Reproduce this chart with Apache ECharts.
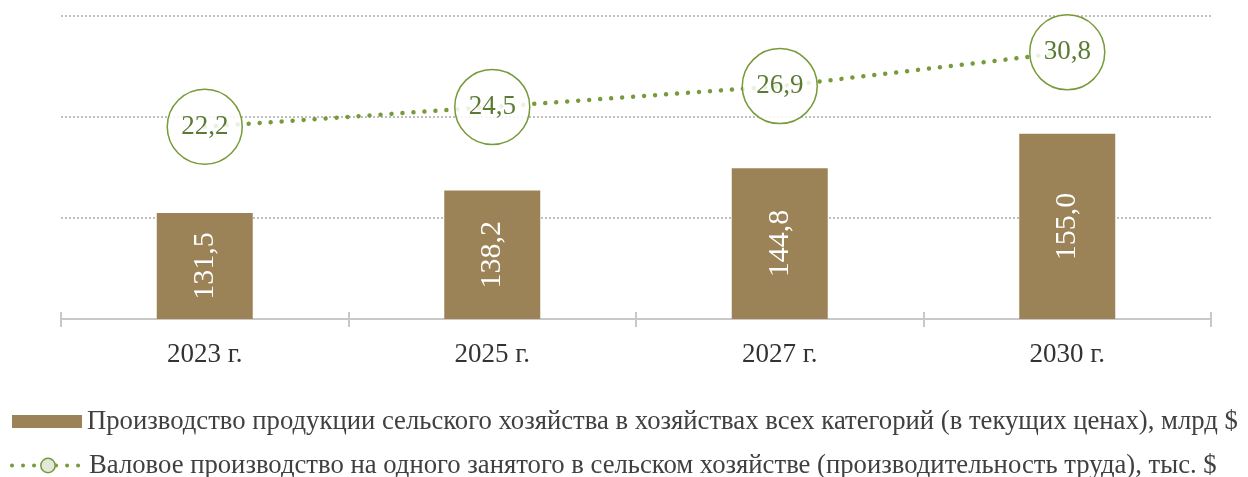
<!DOCTYPE html>
<html>
<head>
<meta charset="utf-8">
<script src="https://cdn.jsdelivr.net/npm/echarts@6/dist/echarts.min.js"></script>
<style>
  html, body { margin: 0; padding: 0; background: #fff; }
  #chart { width: 1248px; height: 477px; }
</style>
</head>
<body>
<div id="chart"></div>
<script>
var years = ['2023 г.', '2025 г.', '2027 г.', '2030 г.'];
var produkciya = [131.5, 138.2, 144.8, 155.0];
var proizvoditelnost = [22.2, 24.5, 26.9, 30.8];
var namaBar = 'Производство продукции сельского хозяйства в хозяйствах всех категорий (в текущих ценах), млрд $';
var namaLine = 'Валовое производство на одного занятого в сельском хозяйстве (производительность труда), тыс. $';

var fontSerif = '"Liberation Serif", "Times New Roman", serif';
var warnaBar = '#9b8357';
var warnaHijau = '#779a3a';

function koma(v) {
  return v.toFixed(1).replace('.', ',');
}

var chart = echarts.init(document.getElementById('chart'));

var gayaLegend = { fontFamily: fontSerif, fontSize: 26.7, color: '#404040' };

var option = {
  animation: false,
  textStyle: { fontFamily: fontSerif },
  grid: { left: 61, right: 37, top: 16, bottom: 158 },
  legend: [
    {
      left: 7,
      top: 403,
      itemWidth: 70,
      itemHeight: 13,
      textStyle: gayaLegend,
      data: [{ name: namaBar, icon: 'rect' }]
    },
    {
      left: 5,
      top: 447,
      itemWidth: 72,
      itemHeight: 18,
      textStyle: gayaLegend,
      lineStyle: { width: 4, type: [0.01, 11], cap: 'round' },
      itemStyle: { color: '#e3e8da', borderWidth: 1.5 },
      data: [namaLine]
    }
  ],
  xAxis: [
    {
      type: 'category',
      data: years,
      axisLine: { lineStyle: { color: '#c8c8c8', width: 2 } },
      axisTick: { show: true, length: 8, lineStyle: { color: '#c8c8c8', width: 2 } },
      axisLabel: { fontFamily: fontSerif, fontSize: 27, color: '#333', margin: 22 }
    },
    {
      type: 'category',
      data: years,
      position: 'bottom',
      axisLine: { show: false },
      axisTick: { show: true, inside: true, length: 7, lineStyle: { color: '#c8c8c8', width: 2 } },
      axisLabel: { show: false }
    }
  ],
  yAxis: [
    {
      type: 'value',
      min: 100,
      max: 190,
      interval: 30,
      axisLabel: { show: false },
      axisLine: { show: false },
      axisTick: { show: false },
      splitLine: { lineStyle: { color: '#bfbfbf', width: 2, type: [2, 2] } }
    },
    {
      type: 'value',
      min: 0,
      max: 35,
      show: false,
      splitLine: { show: false }
    }
  ],
  series: [
    {
      name: namaBar,
      type: 'bar',
      data: produkciya,
      barWidth: 96,
      itemStyle: { color: warnaBar },
      label: {
        show: true,
        position: 'inside',
        rotate: 90,
        color: '#fff',
        fontFamily: fontSerif,
        fontSize: 30,
        formatter: function (p) { return koma(p.value); }
      }
    },
    {
      name: namaLine,
      type: 'line',
      yAxisIndex: 1,
      data: proizvoditelnost,
      symbol: 'circle',
      symbolSize: 75,
      z: 5,
      lineStyle: { color: warnaHijau, width: 4.5, type: [0.01, 11], cap: 'round' },
      itemStyle: { color: 'rgba(255,255,255,0.85)', borderColor: warnaHijau, borderWidth: 1.5 },
      label: {
        show: true,
        position: 'inside',
        color: '#5b7b35',
        fontFamily: fontSerif,
        fontSize: 27,
        formatter: function (p) { return koma(p.value); }
      }
    }
  ]
};

chart.setOption(option);
</script>
</body>
</html>
